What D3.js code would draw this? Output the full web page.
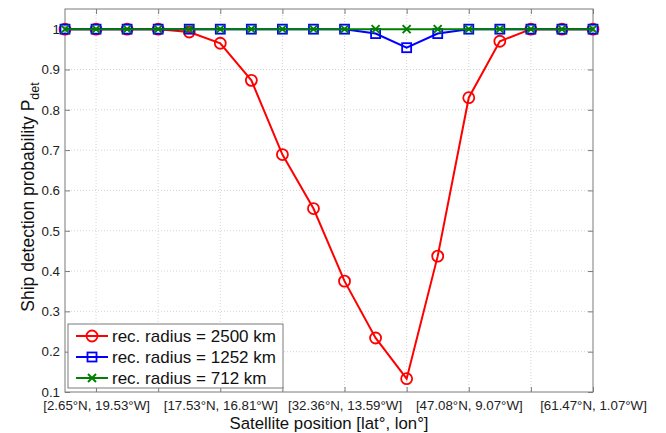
<!DOCTYPE html>
<html>
<head>
<meta charset="utf-8">
<script src="https://cdn.jsdelivr.net/npm/d3@7"></script>
<style>
  body { margin: 0; background: #fff; }
  svg { display: block; font-family: "Liberation Sans", Arial, sans-serif; }
</style>
</head>
<body>
<svg id="chart" width="666" height="433"></svg>
<script>
// ---- data ----
const positions = [1,2,3,4,5,6,7,8,9,10,11,12,13,14,15,16,17,18];
const red2500 = [1,1,1,1,0.993,0.965,0.873,0.689,0.555,0.375,0.234,0.133,0.437,0.830,0.970,1,1,1];
const blue1252 = [1,1,1,1,1,1,1,1,1,1,0.989,0.954,0.989,1,1,1,1,1];
const green712 = [1,1,1,1,1,1,1,1,1,1,1,1,1,1,1,1,1,1];
const xTicks = [2,4,6,8,10,12,14,16,18];
const xTickLabels = ["[2.65°N, 19.53°W]","","[17.53°N, 16.81°W]","","[32.36°N, 13.59°W]","","[47.08°N, 9.07°W]","","[61.47°N, 1.07°W]"];
const yTicks = [0.1,0.2,0.3,0.4,0.5,0.6,0.7,0.8,0.9,1];
const yTickLabels = ["0.1","0.2","0.3","0.4","0.5","0.6","0.7","0.8","0.9","1"];
const seriesNames = ["rec. radius = 2500 km","rec. radius = 1252 km","rec. radius = 712 km"];

const series = [
  {name: seriesNames[0], values: red2500, color: "#ff0000", marker: "circle"},
  {name: seriesNames[1], values: blue1252, color: "#0000ff", marker: "square"},
  {name: seriesNames[2], values: green712, color: "#008000", marker: "x"}
];

// ---- layout ----
const L = 65, R = 593, T = 9, B = 392;
const axisColor = "#7a7a7a";
const svg = d3.select("#chart");
const x = d3.scaleLinear().domain([1, 18]).range([L, R]);
const y = d3.scaleLinear().domain([0.1, 1.05]).range([B, T]);

// grid
const grid = svg.append("g");
grid.selectAll("line.vg").data(xTicks.filter(t => t < 18)).join("line")
  .attr("x1", d => x(d)).attr("x2", d => x(d)).attr("y1", T).attr("y2", B)
  .attr("stroke", "#d4d4d4").attr("stroke-width", 1).attr("stroke-dasharray", "1,2");
grid.selectAll("line.hg").data(yTicks.filter(t => t > 0.1)).join("line")
  .attr("x1", L).attr("x2", R).attr("y1", d => y(d)).attr("y2", d => y(d))
  .attr("stroke", "#d4d4d4").attr("stroke-width", 1).attr("stroke-dasharray", "1,2");

// axes (box, inward ticks)
const xb = d3.axisBottom(x).tickValues(xTicks).tickSize(-5).tickPadding(9)
  .tickFormat((d, i) => xTickLabels[i]);
const xt = d3.axisTop(x).tickValues(xTicks).tickSize(-5).tickFormat("");
const yl = d3.axisLeft(y).tickValues(yTicks).tickSize(-5).tickPadding(5)
  .tickFormat((d, i) => yTickLabels[i]);
const yr = d3.axisRight(y).tickValues(yTicks).tickSize(-5).tickFormat("");

function styleAxis(g) {
  g.select(".domain").remove();
  g.selectAll(".tick line").attr("stroke", axisColor);
  g.selectAll(".tick text").attr("fill", "#222").attr("font-family", "Liberation Sans, Arial, sans-serif");
}
svg.append("g").attr("transform", `translate(0,${B})`).call(xb).call(styleAxis)
  .selectAll(".tick text").attr("font-size", 13.3);
svg.append("g").attr("transform", `translate(0,${T})`).call(xt).call(styleAxis);
svg.append("g").attr("transform", `translate(${L},0)`).call(yl).call(styleAxis)
  .selectAll(".tick text").attr("font-size", 13.3);
svg.append("g").attr("transform", `translate(${R},0)`).call(yr).call(styleAxis);

svg.append("rect").attr("x", L).attr("y", T).attr("width", R - L).attr("height", B - T)
  .attr("fill", "none").attr("stroke", axisColor).attr("stroke-width", 1);

// markers
function drawMarker(g, type, color) {
  if (type === "circle") {
    g.append("circle").attr("r", 5.5).attr("fill", "none").attr("stroke", color).attr("stroke-width", 1.8);
  } else if (type === "square") {
    g.append("rect").attr("x", -4.5).attr("y", -4.5).attr("width", 9).attr("height", 9)
      .attr("fill", "none").attr("stroke", color).attr("stroke-width", 1.8);
  } else {
    g.append("path").attr("d", "M-4,-4L4,4M-4,4L4,-4")
      .attr("fill", "none").attr("stroke", color).attr("stroke-width", 2);
  }
}

const line = d3.line().x((d, i) => x(positions[i])).y(d => y(d));
series.forEach(s => {
  const g = svg.append("g");
  g.append("path").datum(s.values).attr("d", line)
    .attr("fill", "none").attr("stroke", s.color).attr("stroke-width", 2);
  s.values.forEach((v, i) => {
    const m = g.append("g").attr("transform", `translate(${x(positions[i])},${y(v)})`);
    drawMarker(m, s.marker, s.color);
  });
});

// axis titles
svg.append("text").attr("x", (L + R) / 2).attr("y", 428.5).attr("text-anchor", "middle")
  .attr("font-size", 16.8).attr("fill", "#111").text("Satellite position [lat°, lon°]");

const yt = svg.append("text").attr("transform", `translate(34,197) rotate(-90)`)
  .attr("text-anchor", "middle").attr("font-size", 17.5).attr("fill", "#111");
yt.append("tspan").text("Ship detection probability P");
yt.append("tspan").attr("font-size", 12.5).attr("dy", 5).text("det");

// legend
const lg = svg.append("g");
lg.append("rect").attr("x", 68).attr("y", 324).attr("width", 215).attr("height", 64)
  .attr("fill", "#fff").attr("stroke", axisColor).attr("stroke-width", 1);
series.forEach((s, i) => {
  const yy = 336 + i * 21;
  lg.append("line").attr("x1", 76).attr("x2", 108).attr("y1", yy).attr("y2", yy)
    .attr("stroke", s.color).attr("stroke-width", 2);
  const m = lg.append("g").attr("transform", `translate(92,${yy})`);
  drawMarker(m, s.marker, s.color);
  lg.append("text").attr("x", 112).attr("y", yy + 6).attr("font-size", 17)
    .attr("fill", "#111").text(s.name);
});
</script>
</body>
</html>
